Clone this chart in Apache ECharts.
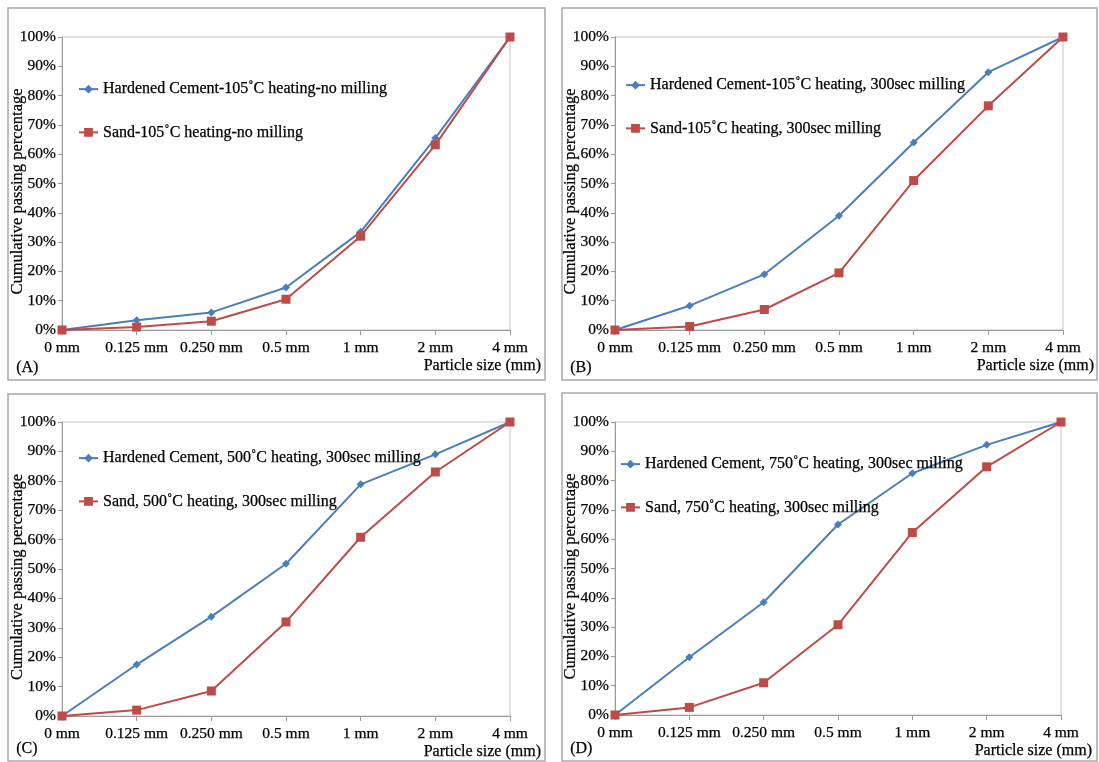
<!DOCTYPE html>
<html>
<head>
<meta charset="utf-8">
<title>Cumulative passing percentage</title>
<script src="https://cdn.jsdelivr.net/npm/echarts@6/dist/echarts.min.js"></script>
<style>
  html, body { margin: 0; padding: 0; background: #ffffff; }
  #chart { width: 1099px; height: 762px; }
</style>
</head>
<body>
<div id="chart"></div>
<script>
// Sieve sizes on the x axis
const sizes = ['0 mm', '0.125 mm', '0.250 mm', '0.5 mm', '1 mm', '2 mm', '4 mm'];

// Cumulative passing (%) per panel
const cementA = [0, 3.3, 6.0, 14.5, 33.5, 65.5, 100];
const sandA   = [0, 1.0, 3.0, 10.5, 32.0, 63.2, 100];
const cementB = [0, 8.3, 19.0, 39.0, 64.0, 88.0, 100];
const sandB   = [0, 1.2, 7.0, 19.5, 51.0, 76.5, 100];
const cementC = [0, 17.5, 33.8, 51.8, 78.8, 89.0, 100];
const sandC   = [0, 2.0, 8.5, 32.0, 60.8, 83.0, 100];
const cementD = [0, 19.7, 38.5, 65.0, 82.5, 92.2, 100];
const sandD   = [0, 2.6, 11.0, 30.8, 62.3, 84.7, 100];

const cementNames = [
  'Hardened Cement-105˚C heating-no milling',
  'Hardened Cement-105˚C heating, 300sec milling',
  'Hardened Cement, 500˚C heating, 300sec milling',
  'Hardened Cement, 750˚C heating, 300sec milling'
];
const sandNames = [
  'Sand-105˚C heating-no milling',
  'Sand-105˚C heating, 300sec milling',
  'Sand, 500˚C heating, 300sec milling',
  'Sand, 750˚C heating, 300sec milling'
];
const panelLabels = ['(A)', '(B)', '(C)', '(D)'];

const cementSets = [cementA, cementB, cementC, cementD];
const sandSets = [sandA, sandB, sandC, sandD];

const FONT = '"Liberation Serif", "Times New Roman", serif';
const BLUE = '#4A7EBB';
const RED = '#BE4B48';
// slightly heavier glyph strokes for all text
const INK = { color: '#000', textBorderColor: '#000', textBorderWidth: 0.25 };

// Layout of the four panels
const grids = [
  { left: 62,  top: 37,  width: 448, height: 293 },
  { left: 615, top: 37,  width: 448, height: 293 },
  { left: 62,  top: 422, width: 448, height: 294 },
  { left: 615, top: 422, width: 446, height: 293 }
];
const legendPos = [
  { left: 78,  top: 81 },
  { left: 625, top: 77 },
  { left: 78,  top: 450 },
  { left: 620, top: 456 }
];
const frames = [
  { x: 8,   y: 8,   width: 537, height: 372 },
  { x: 562, y: 8,   width: 535, height: 372 },
  { x: 8,   y: 394, width: 537, height: 367 },
  { x: 562, y: 393, width: 535, height: 368 }
];

const xAxes = [], yAxes = [], series = [], legends = [], graphics = [];

grids.forEach((g, i) => {
  g.show = true;
  g.borderColor = '#c4c4c4';
  g.borderWidth = 1;
  g.containLabel = false;
  g.outerBoundsMode = 'none';

  xAxes.push({
    type: 'category',
    gridIndex: i,
    data: sizes,
    boundaryGap: false,
    axisLine: { lineStyle: { color: '#9a9a9a', width: 1 } },
    axisTick: { show: true, interval: 0, length: 5, lineStyle: { color: '#9a9a9a' } },
    axisLabel: Object.assign({ interval: 0, margin: 10, fontFamily: FONT, fontSize: 15.5 }, INK),
    splitLine: { show: false },
    name: 'Particle size (mm)',
    nameLocation: 'end',
    nameGap: 31,
    nameMoveOverlap: false,
    nameTextStyle: Object.assign({
      fontFamily: FONT, fontSize: 16,
      align: 'right', verticalAlign: 'top', padding: [28, 0, 0, 0]
    }, INK)
  });

  yAxes.push({
    type: 'value',
    gridIndex: i,
    min: 0,
    max: 100,
    interval: 10,
    axisLine: { show: true, lineStyle: { color: '#9a9a9a', width: 1 } },
    axisTick: { show: true, length: 4, lineStyle: { color: '#9a9a9a' } },
    axisLabel: Object.assign({ formatter: '{value}%', margin: 6, fontFamily: FONT, fontSize: 15.5 }, INK),
    splitLine: { show: false },
    name: 'Cumulative passing percentage',
    nameLocation: 'middle',
    nameRotate: 90,
    nameGap: 36,
    nameMoveOverlap: false,
    nameTextStyle: Object.assign({ fontFamily: FONT, fontSize: 16.5, padding: [0, 16, 0, 0] }, INK)
  });

  series.push({
    name: cementNames[i],
    type: 'line',
    xAxisIndex: i,
    yAxisIndex: i,
    data: cementSets[i],
    symbol: 'diamond',
    symbolSize: 8,
    lineStyle: { color: BLUE, width: 2 },
    itemStyle: { color: BLUE },
    z: 2
  });
  series.push({
    name: sandNames[i],
    type: 'line',
    xAxisIndex: i,
    yAxisIndex: i,
    data: sandSets[i],
    symbol: 'rect',
    symbolSize: 9,
    lineStyle: { color: RED, width: 2 },
    itemStyle: { color: RED },
    z: 3
  });

  legends.push({
    orient: 'vertical',
    left: legendPos[i].left,
    top: legendPos[i].top,
    padding: 0,
    data: [cementNames[i], sandNames[i]],
    itemWidth: 19,
    itemHeight: 11,
    itemGap: 27,
    selectedMode: false,
    textStyle: Object.assign({ fontFamily: FONT, fontSize: 16, lineHeight: 16 }, INK)
  });

  graphics.push({
    type: 'rect',
    shape: frames[i],
    style: { fill: 'none', stroke: '#a8a8a8', lineWidth: 1.5 },
    silent: true
  });
  graphics.push({
    type: 'text',
    left: frames[i].x + 8,
    top: frames[i].y + frames[i].height - 20,
    style: { text: panelLabels[i], fill: '#000', stroke: '#000', lineWidth: 0.25, font: '16px ' + FONT },
    silent: true
  });
});

const chart = echarts.init(document.getElementById('chart'), null, { renderer: 'canvas' });
chart.setOption({
  animation: false,
  backgroundColor: '#ffffff',
  grid: grids,
  xAxis: xAxes,
  yAxis: yAxes,
  legend: legends,
  series: series,
  graphic: graphics
});
</script>
</body>
</html>
